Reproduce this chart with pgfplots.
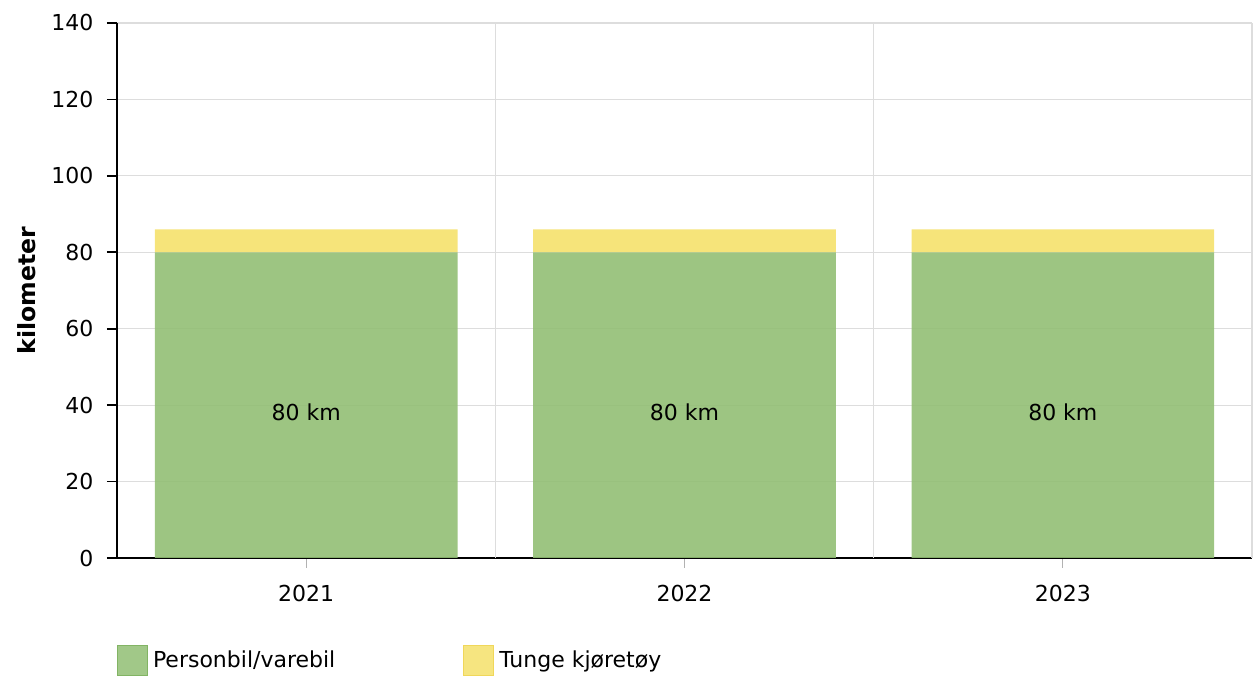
\documentclass[border=0pt]{standalone}
\usepackage{pgfplots}
\pgfplotsset{compat=1.18}
\usepackage{fontspec}
\setmainfont{DejaVu Sans}
\definecolor{pgreen}{RGB}{146,191,116}
\definecolor{pgreenD}{RGB}{130,180,100}
\definecolor{pyellow}{RGB}{245,225,107}
\definecolor{pyellowD}{RGB}{240,215,90}
\definecolor{gridc}{RGB}{221,221,221}
\begin{document}
\fontsize{11}{13}\selectfont
\begin{tikzpicture}
\begin{axis}[name=ax,
  scale only axis, width=567.5pt, height=267.5pt,
  ybar stacked, bar width=0.8,
  ymin=0, ymax=140, ytick={0,20,...,140},
  xmin=-0.5, xmax=2.5, xtick={0,1,2}, xticklabels={2021,2022,2023},
  axis x line*=bottom, axis y line*=left,
  axis line style={-, black, line width=0.8pt},
  tick align=outside, major tick length=5pt,
  x tick style={color=gray!60, line width=0.6pt},
  y tick style={color=black, line width=0.8pt},
  ymajorgrids, grid style={color=gridc, line width=0.6pt},
  extra x ticks={0.5,1.5,2.5}, extra x tick labels={},
  extra x tick style={grid=major, major tick length=0pt, tick style={draw=none}},
  /pgf/number format/assume math mode=true,
  tick label style={font=\fontsize{11}{13}\selectfont, color=black},
  yticklabel style={xshift=-3pt},
  xticklabel style={yshift=-4.5pt},
  ylabel={\bfseries kilometer},
  every axis y label/.style={at={(axis description cs:-0.0793,0.5)}, rotate=90, anchor=center, font=\fontsize{11.8}{13}\selectfont},
  legend columns=2,
  legend style={at={(axis description cs:0,0)}, anchor=north west, yshift=-43.5pt,
    draw=none, fill=none, inner sep=0pt, outer sep=0pt,
    font=\fontsize{11}{13}\selectfont,
    /tikz/every odd column/.style={column sep=0.5pt},
    /tikz/every even column/.style={column sep=62pt}},
  legend cell align=left,
]
\addplot[fill=pgreen, draw=none, fill opacity=0.9,
  legend image code/.code={\draw[fill=pgreen!95!white, draw=pgreenD, line width=0.5pt] (0pt,-7.5pt) rectangle (15pt,7.5pt);}]
  coordinates {(0,80) (1,80) (2,80)};
\addlegendentry{Personbil/varebil}
\addplot[fill=pyellow, draw=none, fill opacity=0.9,
  legend image code/.code={\draw[fill=pyellow!95!white, draw=pyellowD, line width=0.5pt] (0pt,-7.5pt) rectangle (15pt,7.5pt);}]
  coordinates {(0,6) (1,6) (2,6)};
\addlegendentry{Tunge kjøretøy}
\coordinate (l0) at (axis cs:0,38);
\coordinate (l1) at (axis cs:1,38);
\coordinate (l2) at (axis cs:2,38);
\end{axis}
\foreach \c in {l0,l1,l2} {\node[font=\fontsize{11}{13}\selectfont, text=black] at (\c) {80 km};}
\pgfresetboundingbox
\path[use as bounding box] (ax.south west) ++(-58.5pt,-59.5pt) rectangle ([shift={(2pt,11.5pt)}]ax.north east);
\end{tikzpicture}
\end{document}
